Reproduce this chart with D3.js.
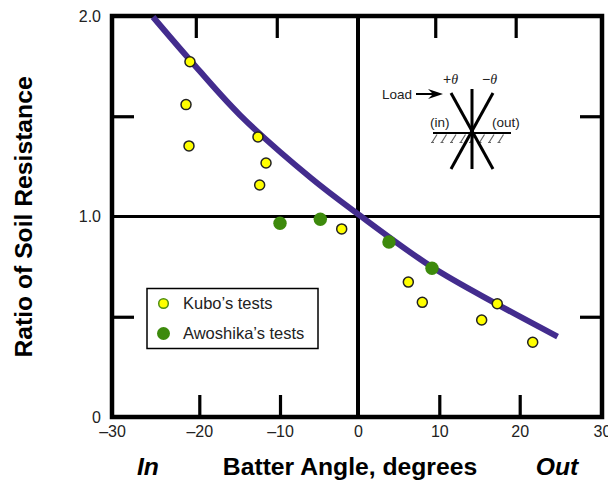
<!DOCTYPE html>
<html>
<head>
<meta charset="utf-8">
<script src="https://cdn.jsdelivr.net/npm/d3@7"></script>
<style>
body { margin: 0; background: #fff; }
text { font-family: "Liberation Sans", Arial, sans-serif; fill: #222; }
</style>
</head>
<body>
<div id="chart"></div>
<script>
// ticks on the source figure are not quite evenly spaced, so the x scale is piecewise
var xStops = [-30, -20, -10, 0, 10, 20, 30];
var xPixels = [112, 199.3, 280, 358, 439.3, 519.7, 602];

var xTickLabels = ["–30", "–20", "–10", "0", "10", "20", "30"];
var yTicks = [0, 1, 2];
var yTickLabels = ["0", "1.0", "2.0"];

// top ticks sit a little left of the bottom ones in the source
var topTicks = [-20.4, -10.4, 9.5, 19.5];
var bottomTicks = [-20, -10, 10, 20];
var sideTicks = [0.5, 1.5];

var kuboX = [-21.07, -21.52, -21.18, -12.73, -11.73, -12.52, -2.09, 6.19, 7.91, 15.27, 17.21, 21.58];
var kuboY = [1.772, 1.558, 1.352, 1.397, 1.267, 1.157, 0.938, 0.673, 0.572, 0.484, 0.565, 0.373];

var awoshikaX = [-10, -4.83, 3.81, 9.1];
var awoshikaY = [0.966, 0.986, 0.873, 0.742];

var curveX = [-25.3, -21.07, -14.96, -6.03, 0, 9.1, 17.21, 24.6];
var curveY = [1.995, 1.781, 1.506, 1.192, 1.012, 0.748, 0.562, 0.401];

var width = 608;
var height = 481;
var margin = {top: 16, bottom: 64};

var svg = d3.select("#chart").append("svg").attr("width", width).attr("height", height);

var x = d3.scaleLinear().domain(xStops).range(xPixels);
var y = d3.scaleLinear().domain([0, 2]).range([height - margin.bottom, margin.top]);

// tick labels
var xLabels = svg.append("g").attr("transform", `translate(0,${y(0)})`)
    .call(d3.axisBottom(x).tickValues(xStops).tickSize(0).tickPadding(9)
        .tickFormat((d, i) => xTickLabels[i]));
xLabels.select(".domain").remove();
xLabels.selectAll("text").attr("font-size", 16).attr("font-family", "Liberation Sans").style("fill", "#222");

var yLabels = svg.append("g").attr("transform", `translate(${x(-30)},0)`)
    .call(d3.axisLeft(y).tickValues(yTicks).tickSize(0).tickPadding(11)
        .tickFormat((d, i) => yTickLabels[i]));
yLabels.select(".domain").remove();
yLabels.selectAll("text").attr("font-size", 16).attr("font-family", "Liberation Sans").style("fill", "#222");

// inner ticks
function inner(g) {
    g.select(".domain").remove();
    g.selectAll("line").attr("stroke", "#000").attr("stroke-width", 3.2);
}
svg.append("g").attr("transform", `translate(0,${y(0)})`)
    .call(d3.axisTop(x).tickValues(bottomTicks).tickSize(22).tickFormat("")).call(inner);
svg.append("g").attr("transform", `translate(0,${y(2)})`)
    .call(d3.axisBottom(x).tickValues(topTicks).tickSize(22).tickFormat("")).call(inner);
svg.append("g").attr("transform", `translate(${x(-30)},0)`)
    .call(d3.axisRight(y).tickValues(sideTicks).tickSize(22).tickFormat("")).call(inner);
svg.append("g").attr("transform", `translate(${x(30)},0)`)
    .call(d3.axisLeft(y).tickValues(sideTicks).tickSize(22).tickFormat("")).call(inner);

// zero lines
svg.append("line").attr("x1", x(-30)).attr("x2", x(30)).attr("y1", y(1)).attr("y2", y(1))
    .attr("stroke", "#000").attr("stroke-width", 3);
svg.append("line").attr("x1", x(0)).attr("x2", x(0)).attr("y1", y(0)).attr("y2", y(2))
    .attr("stroke", "#000").attr("stroke-width", 4);

// frame
svg.append("rect").attr("x", x(-30)).attr("y", y(2))
    .attr("width", x(30) - x(-30)).attr("height", y(0) - y(2))
    .attr("fill", "none").attr("stroke", "#000").attr("stroke-width", 4.5);

// curve
var line = d3.line().x(i => x(curveX[i])).y(i => y(curveY[i])).curve(d3.curveCatmullRom);
svg.append("path").attr("d", line(d3.range(curveX.length)))
    .attr("fill", "none").attr("stroke", "#432c8e").attr("stroke-width", 6);

// points
svg.append("g").selectAll("circle").data(d3.range(kuboX.length)).enter().append("circle")
    .attr("cx", i => x(kuboX[i])).attr("cy", i => y(kuboY[i])).attr("r", 5)
    .attr("fill", "#ffff00").attr("stroke", "#222").attr("stroke-width", 1.5);
svg.append("g").selectAll("circle").data(d3.range(awoshikaX.length)).enter().append("circle")
    .attr("cx", i => x(awoshikaX[i])).attr("cy", i => y(awoshikaY[i])).attr("r", 6.7)
    .attr("fill", "#3d8a0c");

// legend
svg.append("rect").attr("x", 147).attr("y", 288.5).attr("width", 171).attr("height", 60)
    .attr("fill", "#fff").attr("stroke", "#000").attr("stroke-width", 1.5);
svg.append("circle").attr("cx", 163.5).attr("cy", 303.5).attr("r", 4.8)
    .attr("fill", "#ffff00").attr("stroke", "#4f8f12").attr("stroke-width", 1.5);
svg.append("circle").attr("cx", 163.5).attr("cy", 333.5).attr("r", 6.5).attr("fill", "#3d8a0c");
svg.append("text").attr("x", 183).attr("y", 309).attr("font-size", 16.5).text("Kubo’s tests");
svg.append("text").attr("x", 183).attr("y", 339).attr("font-size", 16.5).text("Awoshika’s tests");

// axis titles
svg.append("text").attr("x", 350).attr("y", 475).attr("text-anchor", "middle")
    .attr("font-size", 24.7).attr("font-weight", "bold").style("fill", "#000").text("Batter Angle, degrees");
svg.append("text").attr("x", 148).attr("y", 475).attr("text-anchor", "middle")
    .attr("font-size", 24.7).attr("font-weight", "bold").attr("font-style", "italic").style("fill", "#000").text("In");
svg.append("text").attr("x", 557).attr("y", 475).attr("text-anchor", "middle")
    .attr("font-size", 24.7).attr("font-weight", "bold").attr("font-style", "italic").style("fill", "#000").text("Out");
svg.append("text").attr("transform", "translate(32,217) rotate(-90)").attr("text-anchor", "middle")
    .attr("font-size", 24.7).attr("font-weight", "bold").style("fill", "#000").text("Ratio of Soil Resistance");

// batter pile sketch
var sketch = svg.append("g");
var hatch = d3.range(437, 510, 9.5);
sketch.selectAll(".hatch").data(hatch).enter().append("path").classed("hatch", true)
    .attr("d", d => `M${d},134.5 l-5,8 m2,0 h-3`)
    .attr("fill", "none").attr("stroke", "#666").attr("stroke-width", 1.2);
sketch.append("line").attr("x1", 433).attr("x2", 511).attr("y1", 133).attr("y2", 133)
    .attr("stroke", "#000").attr("stroke-width", 2);
[[451, 93, 493, 169], [493, 93, 451, 169], [472, 89, 472, 169]].forEach(function(p) {
    sketch.append("line").attr("x1", p[0]).attr("y1", p[1]).attr("x2", p[2]).attr("y2", p[3])
        .attr("stroke", "#000").attr("stroke-width", 3);
});
sketch.append("line").attr("x1", 416).attr("x2", 436).attr("y1", 94).attr("y2", 94)
    .attr("stroke", "#000").attr("stroke-width", 2);
sketch.append("path").attr("d", "M443,94 L428,89 L433,94 L428,99 Z").attr("fill", "#000");
sketch.append("text").attr("x", 382).attr("y", 99).attr("font-size", 13.5).text("Load");
sketch.append("text").attr("x", 430).attr("y", 127).attr("font-size", 13.5).text("(in)");
sketch.append("text").attr("x", 492).attr("y", 127).attr("font-size", 13.5).text("(out)");
var plus = sketch.append("text").attr("x", 443).attr("y", 84).attr("font-size", 14);
plus.append("tspan").text("+");
plus.append("tspan").attr("font-style", "italic").attr("font-family", "Liberation Serif").text("θ");
var minus = sketch.append("text").attr("x", 482).attr("y", 84).attr("font-size", 14);
minus.append("tspan").text("−");
minus.append("tspan").attr("font-style", "italic").attr("font-family", "Liberation Serif").text("θ");
</script>
</body>
</html>
